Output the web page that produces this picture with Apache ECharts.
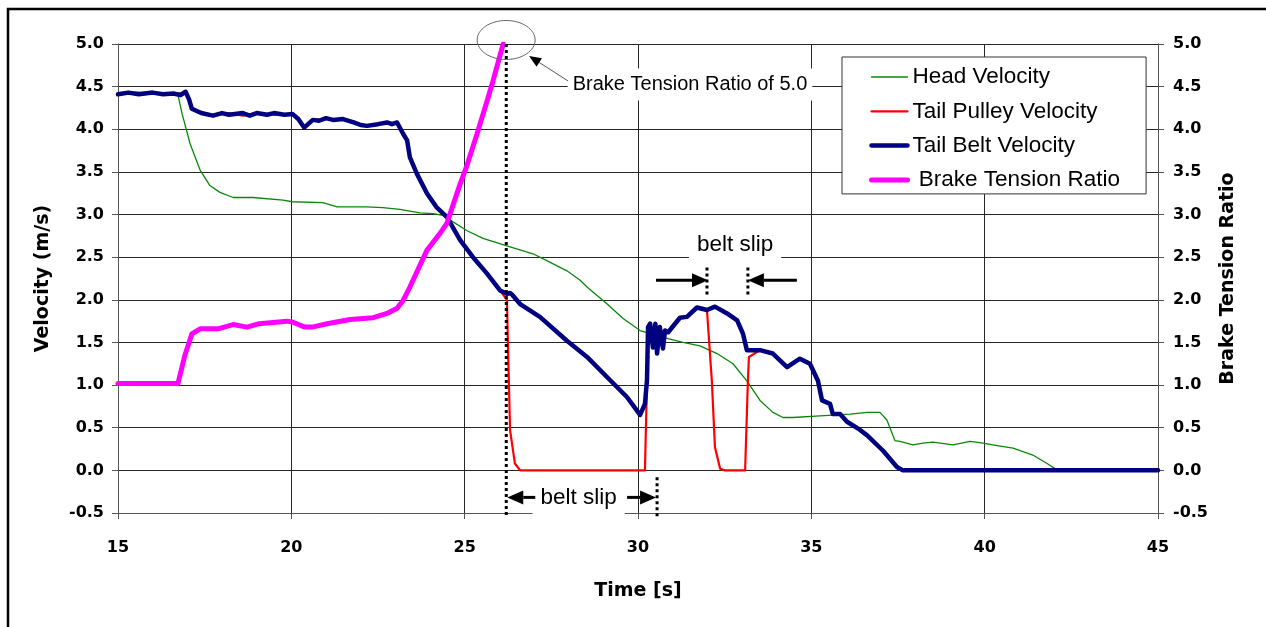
<!DOCTYPE html>
<html>
<head>
<meta charset="utf-8">
<script src="https://cdn.jsdelivr.net/npm/echarts@6/dist/echarts.min.js"></script>
<style>
  html, body { margin: 0; padding: 0; background: #fff; }
  #chart { width: 1266px; height: 627px; }
</style>
</head>
<body>
<div id="chart"></div>
<script>
// data, [time s, value]
const headVelocity = [
  [15, 4.42], [16.5, 4.42], [16.73, 4.40], [16.85, 4.18], [17.08, 3.83], [17.37, 3.52], [17.65, 3.34],
  [17.94, 3.26], [18.32, 3.20], [18.89, 3.20], [19.76, 3.17], [20.03, 3.15], [20.91, 3.14], [21.32, 3.09],
  [22.18, 3.09], [22.64, 3.08], [23.13, 3.06], [23.71, 3.02], [24.09, 3.01], [24.37, 2.99], [25.07, 2.81],
  [25.53, 2.72], [26.31, 2.62], [26.97, 2.54], [27.37, 2.46], [27.95, 2.34], [28.33, 2.23], [28.53, 2.15],
  [29.11, 1.95], [29.57, 1.78], [30.06, 1.64], [30.72, 1.56], [31.30, 1.50], [31.79, 1.46], [32.28, 1.37],
  [32.74, 1.25], [33.14, 1.05], [33.52, 0.82], [33.89, 0.68], [34.18, 0.62], [34.47, 0.62], [35.25, 0.64],
  [36.12, 0.66], [36.61, 0.68], [36.98, 0.68], [37.18, 0.59], [37.41, 0.35], [37.56, 0.34], [37.93, 0.30],
  [38.22, 0.32], [38.51, 0.33], [39.09, 0.30], [39.58, 0.34], [39.95, 0.32], [40.36, 0.29], [40.82, 0.26],
  [41.39, 0.18], [41.80, 0.08], [42.03, 0.02]
];
const tailPulleyVelocity = [
  [15, 4.41], [15.5, 4.43], [16.0, 4.42], [16.5, 4.41], [16.95, 4.43], [17.05, 4.35], [17.13, 4.24],
  [17.4, 4.19], [17.74, 4.16], [18.2, 4.19], [18.6, 4.16], [19.0, 4.19], [19.5, 4.17], [20.03, 4.18],
  [20.2, 4.12], [20.37, 4.02], [20.62, 4.11], [21.0, 4.12], [21.49, 4.12], [21.8, 4.08], [22.18, 4.04],
  [22.5, 4.06], [22.76, 4.08], [23.05, 4.07], [23.22, 3.95], [23.34, 3.87], [23.42, 3.67], [23.62, 3.48],
  [23.91, 3.25], [24.2, 3.08], [24.49, 2.97], [24.87, 2.70], [25.24, 2.50], [25.64, 2.31], [26.02, 2.11],
  [26.22, 2.0], [26.25, 1.45], [26.31, 0.47], [26.45, 0.08], [26.6, 0.0], [30.2, 0.0], [30.26, 1.05],
  [30.29, 1.68], [30.35, 1.72], [30.43, 1.44], [30.5, 1.72], [30.55, 1.37], [30.63, 1.68], [30.72, 1.43],
  [30.78, 1.64], [30.87, 1.62], [31.21, 1.79], [31.41, 1.80], [31.70, 1.91], [31.99, 1.88], [32.02, 1.86],
  [32.13, 1.05], [32.22, 0.27], [32.37, 0.02], [32.5, 0.0], [33.09, 0.0], [33.17, 1.05], [33.2, 1.33],
  [33.52, 1.41], [33.89, 1.37], [34.30, 1.21], [34.67, 1.31], [34.96, 1.25], [35.19, 1.05], [35.31, 0.82],
  [35.54, 0.78], [35.62, 0.66], [35.83, 0.66], [36.03, 0.57], [36.35, 0.49], [36.61, 0.41], [37.07, 0.23],
  [37.47, 0.04], [37.64, 0.0], [45, 0.0]
];
const tailBeltVelocity = [
  [15, 4.41], [15.3, 4.43], [15.6, 4.41], [16.0, 4.43], [16.3, 4.41], [16.6, 4.42], [16.8, 4.40],
  [16.95, 4.44], [17.05, 4.35], [17.13, 4.24], [17.4, 4.19], [17.74, 4.16], [18.0, 4.19], [18.2, 4.17],
  [18.6, 4.19], [18.8, 4.16], [19.0, 4.19], [19.3, 4.17], [19.5, 4.19], [19.8, 4.17], [20.03, 4.18],
  [20.2, 4.12], [20.37, 4.02], [20.62, 4.11], [20.8, 4.10], [21.0, 4.13], [21.2, 4.11], [21.49, 4.12],
  [21.8, 4.08], [22.0, 4.05], [22.18, 4.04], [22.5, 4.06], [22.76, 4.08], [22.9, 4.06], [23.05, 4.08],
  [23.22, 3.95], [23.34, 3.87], [23.42, 3.67], [23.62, 3.48], [23.91, 3.25], [24.2, 3.08], [24.49, 2.97],
  [24.87, 2.70], [25.24, 2.50], [25.64, 2.31], [26.02, 2.11], [26.22, 2.07], [26.31, 2.08], [26.37, 2.06],
  [26.6, 1.95], [27.17, 1.80], [27.95, 1.52], [28.53, 1.33], [29.19, 1.06], [29.68, 0.86], [30.06, 0.65],
  [30.2, 0.78], [30.26, 1.06], [30.29, 1.68], [30.35, 1.72], [30.43, 1.44], [30.5, 1.72], [30.55, 1.37],
  [30.63, 1.68], [30.72, 1.43], [30.78, 1.64], [30.87, 1.62], [31.21, 1.79], [31.41, 1.80], [31.70, 1.91],
  [31.99, 1.88], [32.22, 1.92], [32.57, 1.84], [32.86, 1.76], [33.03, 1.60], [33.14, 1.41], [33.52, 1.41],
  [33.89, 1.37], [34.30, 1.21], [34.67, 1.31], [34.96, 1.25], [35.19, 1.05], [35.31, 0.82], [35.54, 0.78],
  [35.62, 0.66], [35.83, 0.66], [36.03, 0.57], [36.35, 0.49], [36.61, 0.41], [37.07, 0.23], [37.47, 0.04],
  [37.64, 0.0], [45, 0.0]
];
const brakeTensionRatio = [
  [15, 1.02], [16.73, 1.02], [16.93, 1.35], [17.13, 1.60], [17.37, 1.66], [17.88, 1.66], [18.32, 1.71],
  [18.72, 1.68], [19.07, 1.72], [19.87, 1.75], [20.03, 1.74], [20.39, 1.68], [20.6, 1.68], [21.03, 1.72],
  [21.69, 1.77], [22.36, 1.79], [22.76, 1.84], [23.05, 1.90], [23.22, 1.99], [23.42, 2.15], [23.91, 2.58],
  [24.29, 2.78], [24.49, 2.90], [24.87, 3.36], [25.07, 3.58], [25.36, 3.95], [25.6, 4.27], [25.82, 4.57],
  [26.11, 5.0]
];

// axis ranges
const timeAxis = { min: 15, max: 45, interval: 5 };
const valueAxis = { min: -0.5, max: 5, interval: 0.5 };

// annotation anchors (data coords)
const slipMarks = [26.2, 30.55];
const slip2Marks = [31.99, 33.17];
const brakePeak = [26.11, 5.0];

const chart = echarts.init(document.getElementById('chart'));
const boldFont = { fontFamily: 'DejaVu Sans', fontWeight: 'bold', color: '#000' };

function yAxisOf(name, position, gap, margin, showSplit) {
  return {
    type: 'value', position: position, min: valueAxis.min, max: valueAxis.max, interval: valueAxis.interval,
    name: name, nameLocation: 'middle', nameGap: gap,
    nameTextStyle: Object.assign({ fontSize: 19 }, boldFont),
    axisLine: { show: true, onZero: false, lineStyle: { color: '#555', width: 1 } },
    axisTick: { show: true, length: 6, lineStyle: { color: '#555' } },
    axisLabel: Object.assign({ fontSize: 16, margin: margin, formatter: v => v.toFixed(1) }, boldFont),
    splitLine: { show: showSplit, lineStyle: { color: '#262626', width: 1 } }
  };
}

function lineSeries(name, data, color, width, axis) {
  return {
    name: name, type: 'line', data: data, yAxisIndex: axis, symbol: 'none',
    lineStyle: { color: color, width: width, join: 'round', cap: 'round' },
    itemStyle: { color: color }
  };
}

chart.setOption({
  animation: false,
  grid: { left: 118, right: 108, top: 44, bottom: 114 },
  legend: {
    orient: 'vertical', left: 842, top: 57,
    padding: [8, 26, 2, 27], itemWidth: 36, itemHeight: 14, itemGap: 10.3,
    backgroundColor: '#fff', borderColor: '#333', borderWidth: 1, borderRadius: 0,
    selectedMode: false,
    lineStyle: { width: 'inherit' },
    itemStyle: { opacity: 0 },
    textStyle: { fontFamily: 'Liberation Sans', fontSize: 22.5, lineHeight: 24, color: '#000' },
    formatter: n => (n === 'Brake Tension Ratio' ? ' ' + n : n),
    data: ['Head Velocity', 'Tail Pulley Velocity', 'Tail Belt Velocity', 'Brake Tension Ratio']
  },
  xAxis: {
    type: 'value', min: timeAxis.min, max: timeAxis.max, interval: timeAxis.interval,
    name: 'Time [s]', nameLocation: 'middle', nameGap: 69,
    nameTextStyle: Object.assign({ fontSize: 19 }, boldFont),
    axisLine: { onZero: false, lineStyle: { color: '#555', width: 1 } },
    axisTick: { length: 6, lineStyle: { color: '#555' } },
    axisLabel: Object.assign({ fontSize: 16, margin: 27 }, boldFont),
    splitLine: { show: true, lineStyle: { color: '#262626', width: 1 } }
  },
  yAxis: [
    yAxisOf('Velocity (m/s)', 'left', 65, 14, true),
    yAxisOf('Brake Tension Ratio', 'right', 60, 15, false)
  ],
  series: [
    lineSeries('Head Velocity', headVelocity, '#0a870a', 1.3, 0),
    lineSeries('Tail Pulley Velocity', tailPulleyVelocity, '#ff0000', 2.2, 0),
    lineSeries('Tail Belt Velocity', tailBeltVelocity, '#000080', 4.5, 0),
    lineSeries('Brake Tension Ratio', brakeTensionRatio, '#ff00ff', 5, 1)
  ]
});

// annotations placed from data anchors
const px = p => chart.convertToPixel({ xAxisIndex: 0, yAxisIndex: 0 }, p);

function dotted(t, v1, v2) {
  const a = px([t, v1]), b = px([t, v2]);
  return { type: 'line', z: 20, shape: { x1: a[0], y1: a[1], x2: b[0], y2: b[1] },
    style: { stroke: '#000', lineWidth: 3, lineDash: [3, 3] } };
}

function arrow(tipX, y, tailX) {
  const dir = tailX > tipX ? 1 : -1;
  const baseX = tipX + dir * 16;
  return [
    { type: 'line', z: 20, shape: { x1: baseX, y1: y, x2: tailX, y2: y }, style: { stroke: '#000', lineWidth: 3 } },
    { type: 'polygon', z: 20, shape: { points: [[tipX, y], [baseX, y - 7], [baseX, y + 7]] }, style: { fill: '#000' } }
  ];
}

function label(text, p, size, padding) {
  return { type: 'text', x: p[0], y: p[1], z: 15,
    style: { text: text, fontFamily: 'Liberation Sans', fontSize: size, fill: '#000',
      align: 'center', verticalAlign: 'middle', backgroundColor: '#fff', padding: padding } };
}

const g = [];
g.push({ type: 'rect', z: 30, shape: { x: 8, y: 9, width: 1300, height: 700 },
  style: { fill: 'none', stroke: '#000', lineWidth: 2.5 } });

// bottom slip
const sA = px([slipMarks[0], -0.317]), sB = px([slipMarks[1], -0.317]);
g.push(label('belt slip', [(sA[0] + sB[0]) / 2 - 3, sA[1]], 22.5, [8, 8]));
g.push(dotted(slipMarks[0], 5.0, -0.56));
g.push(dotted(slipMarks[1], -0.08, -0.56));
g.push(...arrow(sA[0] + 1, sA[1], sA[0] + 29));
g.push(...arrow(sB[0] - 1, sB[1], sB[0] - 30));

// top slip
const tA = px([slip2Marks[0], 2.23]), tB = px([slip2Marks[1], 2.23]);
g.push(label('belt slip', px([32.8, 2.65]), 22.5, [5, 8]));
g.push(dotted(slip2Marks[0], 2.38, 2.03));
g.push(dotted(slip2Marks[1], 2.38, 2.03));
g.push(...arrow(tA[0] + 1, tA[1], tA[0] - 51));
g.push(...arrow(tB[0], tB[1], tB[0] + 49));

// brake ratio note
const pk = px(brakePeak);
g.push({ type: 'ellipse', z: 20, shape: { cx: pk[0] + 3, cy: pk[1] - 4, rx: 29, ry: 19.5 },
  style: { fill: 'none', stroke: '#666', lineWidth: 1 } });
g.push(label('Brake Tension Ratio of 5.0', px([31.5, 4.525]), 20, [6, 5]));
const tip = [pk[0] + 26, pk[1] + 12], tail = [pk[0] + 65, pk[1] + 37];
const dx = tail[0] - tip[0], dy = tail[1] - tip[1], len = Math.hypot(dx, dy);
const ux = dx / len, uy = dy / len;
const base = [tip[0] + ux * 12, tip[1] + uy * 12];
g.push({ type: 'line', z: 20, shape: { x1: base[0], y1: base[1], x2: tail[0], y2: tail[1] },
  style: { stroke: '#555', lineWidth: 1 } });
g.push({ type: 'polygon', z: 20, shape: { points: [tip, [base[0] - uy * 5, base[1] + ux * 5], [base[0] + uy * 5, base[1] - ux * 5]] },
  style: { fill: '#000' } });

chart.setOption({ graphic: g });
</script>
</body>
</html>
